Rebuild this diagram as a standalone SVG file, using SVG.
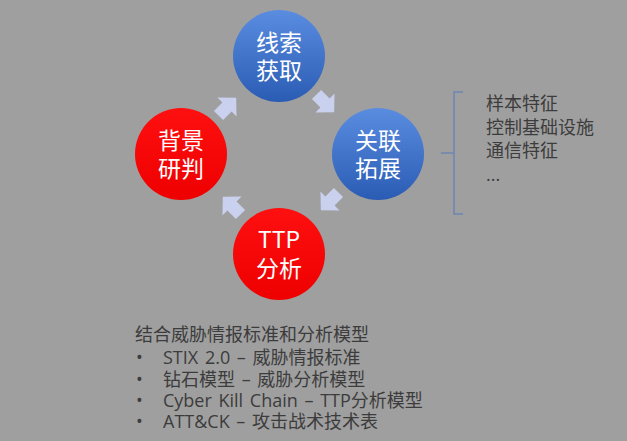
<svg xmlns="http://www.w3.org/2000/svg" width="627" height="441" viewBox="0 0 627 441">
<defs>
<linearGradient id="gBlue" x1="0" y1="0" x2="0" y2="1">
<stop offset="0" stop-color="#5a8ce0"/>
<stop offset="1" stop-color="#2a5cb4"/>
</linearGradient>
<linearGradient id="gRed" x1="0" y1="0" x2="0" y2="1">
<stop offset="0" stop-color="#ff1010"/>
<stop offset="1" stop-color="#ee0000"/>
</linearGradient>
<polygon id="arr" points="-12,-6.5 0,-6.5 0,-13.5 13,0 0,13.5 0,6.5 -12,6.5"/>
<style>
.ct{font-family:"Noto Sans CJK SC","Noto Sans",sans-serif;font-size:23px;fill:#ffffff;text-anchor:middle}
.tx{font-family:"Open Sans","Noto Sans CJK SC",sans-serif;font-size:18px;fill:#3c3c3c}
.bl{word-spacing:2px}
.ar{fill:#c9d1ee}
</style>
</defs>
<rect width="627" height="441" fill="#9f9f9f"/>
<g id="connectors">
<use href="#arr" class="ar" transform="translate(227,107) rotate(-45)"/>
<use href="#arr" class="ar" transform="translate(325,103) rotate(45)"/>
<use href="#arr" class="ar" transform="translate(330,201) rotate(135)"/>
<use href="#arr" class="ar" transform="translate(232,206) rotate(-135)"/>
</g>
<g id="node-clue">
<circle cx="279" cy="56" r="46" fill="url(#gBlue)"/>
<text class="ct" x="279" y="51">线索</text>
<text class="ct" x="279" y="79">获取</text>
</g>
<g id="node-assoc">
<circle cx="378" cy="154" r="46" fill="url(#gBlue)"/>
<text class="ct" x="378" y="149">关联</text>
<text class="ct" x="378" y="177">拓展</text>
</g>
<g id="node-ttp">
<circle cx="279" cy="254" r="46" fill="url(#gRed)"/>
<text class="ct" x="279" y="248">TTP</text>
<text class="ct" x="279" y="277">分析</text>
</g>
<g id="node-bg">
<circle cx="181" cy="154" r="46" fill="url(#gRed)"/>
<text class="ct" x="181" y="149">背景</text>
<text class="ct" x="181" y="177">研判</text>
</g>
<g id="bracket">
<path d="M463,92 H454 V214 H463 M454,153 H441" fill="none" stroke="#6f86b4" stroke-width="1.5"/>
<text class="tx" x="486" y="110">样本特征</text>
<text class="tx" x="486" y="134">控制基础设施</text>
<text class="tx" x="486" y="157">通信特征</text>
<text class="tx" x="486" y="181">...</text>
</g>
<g id="notes">
<text class="tx" x="135" y="341">结合威胁情报标准和分析模型</text>
<text class="tx" x="136" y="364">•</text>
<text class="tx bl" x="163" y="364">STIX 2.0 – 威胁情报标准</text>
<text class="tx" x="136" y="386">•</text>
<text class="tx bl" x="163" y="386">钻石模型 – 威胁分析模型</text>
<text class="tx" x="136" y="407">•</text>
<text class="tx bl" x="163" y="407">Cyber Kill Chain – TTP分析模型</text>
<text class="tx" x="136" y="428">•</text>
<text class="tx bl" x="163" y="428">ATT&amp;CK – 攻击战术技术表</text>
</g>
</svg>
